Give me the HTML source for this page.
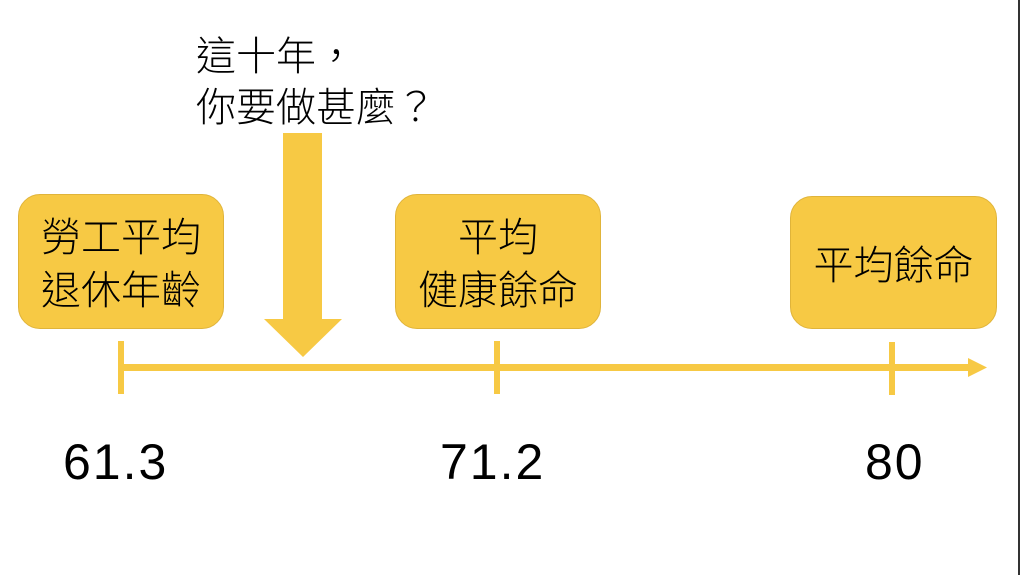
<!DOCTYPE html>
<html><head><meta charset="utf-8"><style>
body{margin:0;width:1023px;height:575px;background:#fff;position:relative;overflow:hidden;font-family:"Liberation Sans","Noto Sans CJK TC",sans-serif}
.box{position:absolute;background:#f7c944;border:1.5px solid #e0b43a;border-radius:22px;box-sizing:border-box;display:flex;align-items:center;justify-content:center;text-align:center;font-size:40px;line-height:53px;color:#000;font-weight:300;padding-top:7px}
.t{position:absolute;font-size:50px;color:#000;letter-spacing:2px}
</style></head><body>
<div style="position:absolute;left:196px;top:32px;font-size:40px;line-height:51px;font-weight:300;white-space:nowrap">這十年，<br>你要做甚麼？</div>
<div class="box" style="left:18px;top:194px;width:206px;height:135px">勞工平均<br>退休年齡</div>
<div class="box" style="left:395px;top:194px;width:206px;height:135px">平均<br>健康餘命</div>
<div class="box" style="left:790px;top:196px;width:207px;height:133px">平均餘命</div>
<svg width="1023" height="575" style="position:absolute;left:0;top:0">
<polygon points="283,133 322,133 322,319 342,319 303,357 264,319 283,319" fill="#f7c944"/>
<rect x="120" y="364" width="852" height="7" fill="#f7c944"/>
<polygon points="968,358 987,367.5 968,377" fill="#f7c944"/>
<rect x="118" y="341" width="6" height="53" fill="#f7c944"/>
<rect x="494" y="341" width="6" height="53" fill="#f7c944"/>
<rect x="889" y="342" width="6" height="53" fill="#f7c944"/>
<rect x="1018" y="0" width="2" height="575" fill="#333"/>
</svg>
<div class="t" style="left:63px;top:433px">61.3</div>
<div class="t" style="left:440px;top:433px">71.2</div>
<div class="t" style="left:865px;top:433px">80</div>
</body></html>
